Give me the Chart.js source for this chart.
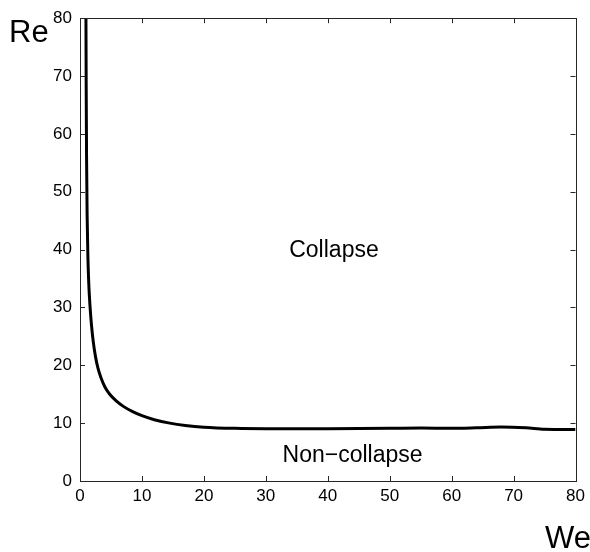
<!DOCTYPE html>
<html>
<head>
<meta charset="utf-8">
<script src="https://cdn.jsdelivr.net/npm/chart.js@4/dist/chart.umd.min.js"></script>
<style>
  html, body { margin: 0; padding: 0; background: #fff; }
  #wrap { width: 590px; height: 552px; position: relative; }
</style>
</head>
<body>
<div id="wrap"><canvas id="c" width="590" height="552"></canvas></div>
<script>
// Critical boundary between collapse and non-collapse regimes
const weValues = [0.92, 0.96, 1.0, 1.06, 1.15, 1.27, 1.42, 1.6, 1.85, 2.15, 2.5, 2.9, 3.4, 4.0, 4.8, 5.8, 7.0, 8.5, 10, 12, 14.5, 17, 20, 25, 30, 40, 50, 55, 60, 64, 68, 72, 75, 80];
const reValues = [95, 80, 68, 56, 46, 39, 34, 30.5, 27, 24, 21.5, 19.5, 17.8, 16.3, 15.0, 13.9, 12.9, 12.0, 11.3, 10.6, 10.0, 9.6, 9.3, 9.1, 9.05, 9.05, 9.1, 9.15, 9.1, 9.2, 9.35, 9.2, 8.95, 8.9];

const xTicks = [0, 10, 20, 30, 40, 50, 60, 70, 80];
const yTicks = [0, 10, 20, 30, 40, 50, 60, 70, 80];

const regionLabels = [
  { text: 'Collapse', we: 41, re: 38.8 },
  { text: 'Non\u2212collapse', we: 44, re: 3.3 }
];

const tickFont = { family: '"Liberation Sans", Arial, sans-serif', size: 17 };
const axisColor = '#262626';

// Inward tick marks on all four sides, a frame, and the annotation texts
const framePlugin = {
  id: 'frame',
  afterDraw(chart) {
    const { ctx, chartArea: a, scales } = chart;
    const xs = scales.x, ys = scales.y;
    const len = 5;
    ctx.save();
    ctx.strokeStyle = axisColor;
    ctx.lineWidth = 1;
    ctx.beginPath();
    xTicks.forEach(v => {
      const px = Math.round(xs.getPixelForValue(v)) + 0.5;
      ctx.moveTo(px, a.bottom); ctx.lineTo(px, a.bottom - len);
      ctx.moveTo(px, a.top); ctx.lineTo(px, a.top + len);
    });
    yTicks.forEach(v => {
      const py = Math.round(ys.getPixelForValue(v)) + 0.5;
      ctx.moveTo(a.left, py); ctx.lineTo(a.left + len, py);
      ctx.moveTo(a.right, py); ctx.lineTo(a.right - len, py);
    });
    ctx.stroke();
    ctx.strokeRect(Math.round(a.left) + 0.5, Math.round(a.top) + 0.5,
                   Math.round(a.right - a.left), Math.round(a.bottom - a.top));

    ctx.fillStyle = '#000';
    ctx.font = '23px "Liberation Sans", Arial, sans-serif';
    ctx.textAlign = 'center';
    ctx.textBaseline = 'alphabetic';
    regionLabels.forEach(l => {
      ctx.fillText(l.text, xs.getPixelForValue(l.we), ys.getPixelForValue(l.re));
    });

    ctx.font = '31px "Liberation Sans", Arial, sans-serif';
    ctx.textAlign = 'left';
    ctx.fillText('Re', 9, 42);
    ctx.fillText('We', 545, 548);
    ctx.restore();
  }
};

new Chart(document.getElementById('c'), {
  type: 'line',
  data: {
    datasets: [{
      data: weValues.map((w, i) => ({ x: w, y: reValues[i] })),
      borderColor: '#000',
      borderWidth: 3,
      pointRadius: 0,
      fill: false,
      cubicInterpolationMode: 'monotone',
      clip: 0
    }]
  },
  options: {
    responsive: false,
    animation: false,
    layout: { padding: { top: 17, right: 12, left: 0, bottom: 0 } },
    plugins: { legend: { display: false }, tooltip: { enabled: false } },
    scales: {
      x: {
        type: 'linear', min: 0, max: 80,
        grid: { display: false, drawTicks: false },
        border: { display: false },
        afterBuildTicks(s) { s.ticks = xTicks.map(v => ({ value: v })); },
        afterFit(s) { s.height = 71; },
        ticks: { color: '#000', font: tickFont, padding: 5, maxRotation: 0 }
      },
      y: {
        type: 'linear', min: 0, max: 80,
        grid: { display: false, drawTicks: false },
        border: { display: false },
        afterBuildTicks(s) { s.ticks = yTicks.map(v => ({ value: v })); },
        afterFit(s) { s.width = 80; },
        ticks: { color: '#000', font: tickFont, padding: 8 }
      }
    }
  },
  plugins: [framePlugin]
});
</script>
</body>
</html>
